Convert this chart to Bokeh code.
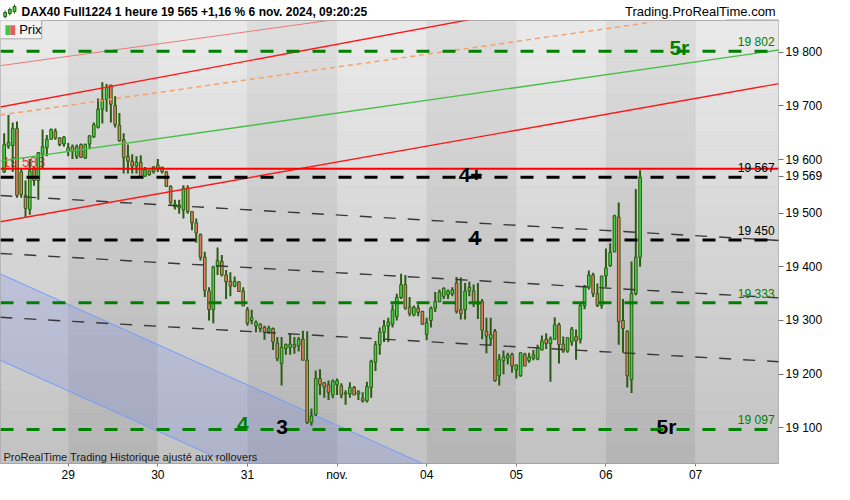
import numpy as np
from bokeh.plotting import figure
from bokeh.layouts import column
from bokeh.models import Span, Label, FixedTicker, ColumnDataSource, Range1d
from bokeh.embed import file_html
from bokeh.resources import INLINE
from bokeh.core.properties import value

FONT = "Liberation Sans"

# ---------------- data ----------------
bars_per_session = 21          # hourly bars per session (index = 21*day + hour slot)
first_bar = 6                  # first visible bar of Oct 28
day_ticks = [21, 42, 63, 84, 105, 126, 147, 168]
day_labels = ["29", "30", "31", "nov.", "04", "05", "06", "07"]
price_ticks = [19100, 19200, 19300, 19400, 19500, 19569, 19600, 19700, 19800]
price_labels = ["19 100", "19 200", "19 300", "19 400", "19 500", "19 569", "19 600", "19 700", "19 800"]

opens = [
    19577, 19625, 19626, 19658, 19577, 19533, 19507, 19583, 19561, 19610, 19622, 19638, 19653, 19640, 19629,
    19615, 19624, 19606, 19628, 19603, 19629, 19642, 19660, 19694, 19712, 19739, 19701, 19664, 19637, 19606, 19597, 19588, 19595, 19569, 19579, 19577,
    19590, 19586, 19577, 19550, 19512, 19510, 19506, 19547, 19503, 19482, 19460, 19418, 19355, 19320, 19401, 19410, 19385, 19373, 19364, 19372, 19355,
    19320, 19300, 19290, 19293, 19287, 19280, 19285, 19258, 19220, 19248, 19250, 19255, 19253, 19265, 19226, 19110, 19125, 19192, 19184, 19180, 19161,
    19180, 19178, 19163, 19163, 19175, 19163, 19155, 19150, 19175, 19222, 19255, 19278, 19290, 19293, 19307, 19343, 19367, 19325, 19310, 19323, 19317,
    19274, 19300, 19323, 19335, 19345, 19348, 19350, 19370, 19320, 19320, 19355, 19355, 19330, 19335, 19280, 19266, 19280, 19197, 19225, 19230, 19237,
    19208, 19197, 19237, 19225, 19230, 19228, 19245, 19265, 19257, 19265, 19292, 19256, 19243, 19260, 19270, 19265, 19328, 19362, 19385, 19350, 19328,
    19383, 19402, 19428, 19493, 19300, 19280, 19190, 19350, 19418,
]
highs = [
    19649, 19683, 19669, 19671, 19583, 19561, 19601, 19586, 19614, 19656, 19646, 19658, 19658, 19642, 19644,
    19631, 19628, 19628, 19630, 19630, 19646, 19669, 19714, 19744, 19741, 19739, 19718, 19687, 19649, 19628, 19610, 19606, 19608, 19586, 19579, 19588,
    19601, 19586, 19579, 19552, 19525, 19525, 19552, 19552, 19503, 19490, 19462, 19428, 19362, 19402, 19436, 19422, 19394, 19390, 19382, 19373, 19362,
    19325, 19320, 19300, 19295, 19290, 19290, 19287, 19269, 19269, 19257, 19275, 19269, 19269, 19281, 19280, 19136, 19207, 19209, 19185, 19188, 19190,
    19192, 19183, 19170, 19185, 19178, 19170, 19166, 19186, 19227, 19262, 19287, 19301, 19305, 19330, 19350, 19387, 19385, 19344, 19328, 19330, 19318,
    19305, 19326, 19353, 19358, 19362, 19358, 19362, 19381, 19380, 19370, 19372, 19367, 19370, 19340, 19305, 19305, 19284, 19237, 19244, 19240, 19240,
    19218, 19240, 19240, 19240, 19245, 19255, 19272, 19276, 19270, 19306, 19296, 19270, 19269, 19288, 19283, 19332, 19366, 19393, 19389, 19369, 19383,
    19434, 19444, 19497, 19520, 19340, 19282, 19410, 19545, 19580,
]
lows = [
    19575, 19620, 19577, 19529, 19529, 19493, 19497, 19551, 19525, 19583, 19606, 19637, 19637, 19625, 19624,
    19606, 19601, 19601, 19603, 19601, 19619, 19640, 19658, 19667, 19689, 19669, 19660, 19633, 19574, 19574, 19574, 19574, 19568, 19568, 19570, 19574,
    19577, 19574, 19549, 19516, 19507, 19499, 19490, 19499, 19468, 19445, 19412, 19344, 19300, 19295, 19385, 19382, 19340, 19345, 19362, 19353, 19327,
    19290, 19293, 19278, 19278, 19264, 19275, 19245, 19224, 19179, 19236, 19236, 19238, 19242, 19226, 19107, 19104, 19122, 19161, 19156, 19152, 19155,
    19161, 19155, 19143, 19156, 19161, 19152, 19147, 19147, 19156, 19206, 19236, 19260, 19260, 19287, 19300, 19340, 19320, 19308, 19308, 19308, 19292,
    19263, 19287, 19316, 19334, 19340, 19340, 19345, 19313, 19302, 19302, 19345, 19325, 19303, 19265, 19239, 19255, 19186, 19179, 19200, 19218, 19203,
    19192, 19195, 19215, 19221, 19226, 19226, 19244, 19247, 19186, 19265, 19220, 19240, 19240, 19253, 19227, 19257, 19321, 19358, 19344, 19325, 19322,
    19362, 19400, 19427, 19255, 19240, 19175, 19165, 19347, 19400,
]
closes = [
    19628, 19632, 19658, 19533, 19535, 19509, 19579, 19561, 19613, 19624, 19638, 19656, 19640, 19628, 19642,
    19622, 19615, 19624, 19604, 19628, 19644, 19665, 19694, 19712, 19735, 19703, 19665, 19635, 19604, 19597, 19588, 19595, 19568, 19581, 19572, 19586,
    19584, 19577, 19550, 19520, 19517, 19515, 19547, 19503, 19482, 19463, 19418, 19356, 19320, 19400, 19412, 19385, 19372, 19364, 19373, 19354, 19327,
    19295, 19305, 19297, 19285, 19278, 19286, 19260, 19229, 19250, 19255, 19256, 19250, 19265, 19226, 19110, 19122, 19192, 19180, 19176, 19166, 19187,
    19188, 19161, 19165, 19175, 19161, 19167, 19150, 19177, 19224, 19255, 19278, 19290, 19297, 19320, 19343, 19367, 19323, 19313, 19325, 19315, 19293,
    19296, 19323, 19335, 19353, 19360, 19355, 19357, 19317, 19313, 19355, 19362, 19331, 19335, 19282, 19271, 19274, 19188, 19227, 19232, 19235, 19215,
    19217, 19240, 19215, 19232, 19236, 19250, 19262, 19257, 19266, 19292, 19255, 19243, 19268, 19284, 19262, 19328, 19364, 19385, 19350, 19328, 19383,
    19398, 19427, 19495, 19298, 19285, 19197, 19350, 19418, 19567,
]

header_text = "DAX40 Full1224 1 heure 19 565 +1,16 % 6 nov. 2024, 09:20:25"
site_text = "Trading.ProRealTime.com"
note_text = "ProRealTime Trading  Historique ajusté aux rollovers"

red_level = 19583
red_level_label = "19 583"
black_levels = [19567, 19450]
black_level_labels = ["19 567", "19 450"]
green_levels = [19802, 19333, 19097]
green_level_labels = ["19 802", "19 333", "19 097"]

# trendlines: (bar index pair, price pair)
trend_thin_red = ([5.1, 100.0], [19775, 19879])
trend_red_up = ([5.1, 130.0], [19698, 19883])
trend_orange = ([5.1, 157.6], [19683, 19856])
trend_green = ([5.1, 190.0], [19597, 19807])
trend_red_low = ([5.1, 190.0], [19484, 19745])
trend_dashed = [([5.1, 190.0], [19533, 19448]),
                ([5.1, 190.0], [19425, 19341]),
                ([5.1, 190.0], [19306, 19222])]
channel_upper = ([0.0, 141.4], [19405, 18900])
channel_lower = ([0.0, 96.2], [19244, 18900])

# wave labels: text, bar index, price, colour
wave_labels = [("5r", 164.2, 19809, "#008000"),
               ("4+", 115.3, 19572, "#000000"),
               ("4", 116.2, 19454, "#000000"),
               ("4", 61.9, 19107, "#008000"),
               ("3", 71.1, 19102, "#000000"),
               ("5r", 161.2, 19102, "#000000")]

# ---------------- layout helpers (reference pixel -> data) ----------------
def ref_pos(px):
    return 21 + (px - 69) / 4.35

def ref_price(py):
    return 19800 - (py - 54) * 1.7953

xr0, xr1 = ref_pos(0), ref_pos(793)
yr0, yr1 = ref_price(481), ref_price(21)

W = 834
HEAD_H = 20
MAIN_H = 464

# ================= header strip =================
hf = figure(width=W, height=HEAD_H, output_backend="svg", toolbar_location=None,
            x_range=Range1d(0, W), y_range=Range1d(HEAD_H, 0),
            x_axis_location=None, y_axis_location=None, title=None,
            min_border_left=0, min_border_right=0, min_border_top=0, min_border_bottom=0)
hf.xgrid.visible = False
hf.ygrid.visible = False
hf.outline_line_color = None
hf.background_fill_color = "#ffffff"
hf.border_fill_color = "#ffffff"
hf.segment(x0=[778], y0=[19.5], x1=[W], y1=[19.5], line_color="#a0a0a0", line_width=1)
# small candle icon
hf.segment(x0=[5, 10, 15], y0=[10, 7, 4], x1=[5, 10, 15], y1=[18, 15, 13], line_color="#2a5c12", line_width=1)
hf.quad(left=[3.5, 8.5, 13.5], right=[6.5, 11.5, 16.5], top=[12, 9, 6], bottom=[16, 13, 11],
        fill_color=["#3fd43f", "#3fd43f", "#3fd43f"], line_color="#2a5c12", line_width=1)
hf.text(x=[22.5], y=[11], text=[header_text], text_font=value(FONT), text_font_size="12px",
        text_font_style="bold", text_color="#000000", text_baseline="middle", text_align="left")
hf.text(x=[831], y=[11], text=[site_text], text_font=value(FONT), text_font_size="13px",
        text_color="#000000", text_baseline="middle", text_align="right")

# ================= main chart =================
p = figure(width=W, height=MAIN_H, output_backend="svg", toolbar_location=None,
           x_range=Range1d(xr0, xr1), y_range=Range1d(yr0, yr1),
           y_axis_location="right", title=None,
           min_border_left=0, min_border_right=56, min_border_top=0, min_border_bottom=18)
p.xgrid.visible = False
p.ygrid.visible = False
p.background_fill_color = "#d0d0d0"
p.border_fill_color = "#ffffff"
p.outline_line_color = "#9c9c9c"
p.outline_line_width = 1

# ---- day bands with vertical gradient ----
nstrip = 24
edges = np.linspace(yr1, yr0, nstrip + 1)
L, R, B, T, C = [], [], [], [], []
for d in range(9):
    left, right = bars_per_session * d, bars_per_session * (d + 1)
    for k in range(nstrip):
        t = (k + 0.5) / nstrip
        if d % 2 == 0:
            g = int(round(234 - t * (234 - 194)))
        else:
            g = int(round(222 - t * (222 - 180)))
        L.append(left); R.append(right); T.append(edges[k]); B.append(edges[k + 1])
        C.append("#%02x%02x%02x" % (g, g, g))
p.quad(left=L, right=R, top=T, bottom=B, fill_color=C, line_color=None)

# ---- blue channel ----
cx = channel_upper[0] + channel_lower[0][::-1]
cy = channel_upper[1] + channel_lower[1][::-1]
p.patch(cx, cy, fill_color="#4a6cf0", fill_alpha=0.16, line_color=None)
p.line(channel_upper[0], channel_upper[1], line_color="#6f9cff", line_width=1)
p.line(channel_lower[0], channel_lower[1], line_color="#6f9cff", line_width=1)

# red level text (behind candles)
p.text(x=[ref_pos(2)], y=[ref_price(176)], text=[red_level_label], text_font=value(FONT),
       text_font_size="14px", text_color="#ff3030", text_baseline="bottom", text_align="left")

# ---- candles ----
o = np.array(opens); h = np.array(highs); l = np.array(lows); c = np.array(closes)
xb = np.arange(first_bar, first_bar + len(opens))
up = c >= o
src = ColumnDataSource(dict(x=xb, top=np.maximum(o, c), bottom=np.minimum(o, c), high=h, low=l,
                            fill=np.where(up, "#3fd43f", "#e27a5c")))
WICK = "#2a5c12"
p.segment(x0="x", y0="high", x1="x", y1="low", source=src, line_color=WICK, line_width=2)
p.vbar(x="x", top="top", bottom="bottom", width=0.62, fill_color="fill", line_color=WICK,
       line_width=1, source=src)

# ---- trendlines ----
p.line(*trend_thin_red, line_color="#f07878", line_width=1)
p.line(*trend_red_up, line_color="#ff1a1a", line_width=1.4)
p.line(*trend_orange, line_color="#f7a06a", line_width=1.5, line_dash="5 4")
p.line(*trend_green, line_color="#45c045", line_width=1.4)
p.line(*trend_red_low, line_color="#ff1a1a", line_width=1.4)
for tx, ty in trend_dashed:
    p.line(tx, ty, line_color="#383838", line_width=1.4, line_dash="12 12")

# ---- horizontal levels ----
p.add_layout(Span(location=red_level, dimension="width", line_color="#ff0000", line_width=2))
for lv in black_levels:
    p.add_layout(Span(location=lv, dimension="width", line_color="#000000", line_width=3,
                      line_dash="13 13"))
for lv in green_levels:
    p.add_layout(Span(location=lv, dimension="width", line_color="#008000", line_width=3,
                      line_dash="13 13"))

for lv, txt in zip(black_levels, black_level_labels):
    p.add_layout(Label(x=ref_pos(789), y=lv, text=txt, text_font=FONT, text_font_size="12px",
                       text_color="#000000", text_align="right", text_baseline="bottom", y_offset=2))
for lv, txt in zip(green_levels, green_level_labels):
    p.add_layout(Label(x=ref_pos(789), y=lv, text=txt, text_font=FONT, text_font_size="12px",
                       text_color="#008000", text_align="right", text_baseline="bottom", y_offset=2))

for txt, bx, pr, col in wave_labels:
    p.add_layout(Label(x=bx, y=pr, text=txt, text_font=FONT, text_font_size="21px",
                       text_font_style="bold", text_color=col, text_align="center",
                       text_baseline="middle"))

# ---- legend box "Prix" ----
p.quad(left=[ref_pos(-2)], right=[ref_pos(42)], top=[ref_price(20)], bottom=[ref_price(40)],
       fill_color="#f2f2f2", line_color="#a8a8a8", line_width=1)
p.quad(left=[ref_pos(5), ref_pos(10)], right=[ref_pos(10), ref_pos(15)],
       top=[ref_price(26)] * 2, bottom=[ref_price(36)] * 2,
       fill_color=["#44c844", "#e06060"], line_color=None)
p.text(x=[ref_pos(19)], y=[ref_price(30.5)], text=["Prix"], text_font=value(FONT),
       text_font_size="13px", text_color="#000000", text_baseline="middle")

# ---- bottom note ----
p.add_layout(Label(x=ref_pos(3), y=ref_price(474), text=note_text,
                   text_font=FONT, text_font_size="11px", text_color="#1a1a1a", text_baseline="middle"))

# ---- axes ----
xa = p.xaxis[0]
xa.ticker = FixedTicker(ticks=day_ticks)
xa.major_label_overrides = {t: lab for t, lab in zip(day_ticks, day_labels)}
xa.axis_line_color = None
xa.major_tick_line_color = "#808080"
xa.major_tick_out = 3
xa.major_tick_in = 0
xa.minor_tick_line_color = None
xa.major_label_standoff = 1
xa.major_label_text_font = FONT
xa.major_label_text_font_size = "12px"
xa.major_label_text_color = "#000000"

ya = p.yaxis[0]
ya.ticker = FixedTicker(ticks=price_ticks)
ya.major_label_overrides = {t: lab for t, lab in zip(price_ticks, price_labels)}
ya.axis_line_color = None
ya.major_tick_line_color = "#707070"
ya.major_tick_out = 5
ya.major_tick_in = 0
ya.minor_tick_line_color = None
ya.major_label_standoff = 2
ya.major_label_text_font = FONT
ya.major_label_text_font_size = "12px"
ya.major_label_text_color = "#000000"

layout = column(hf, p, spacing=0)
open("out.html", "w").write(file_html(layout, INLINE))
